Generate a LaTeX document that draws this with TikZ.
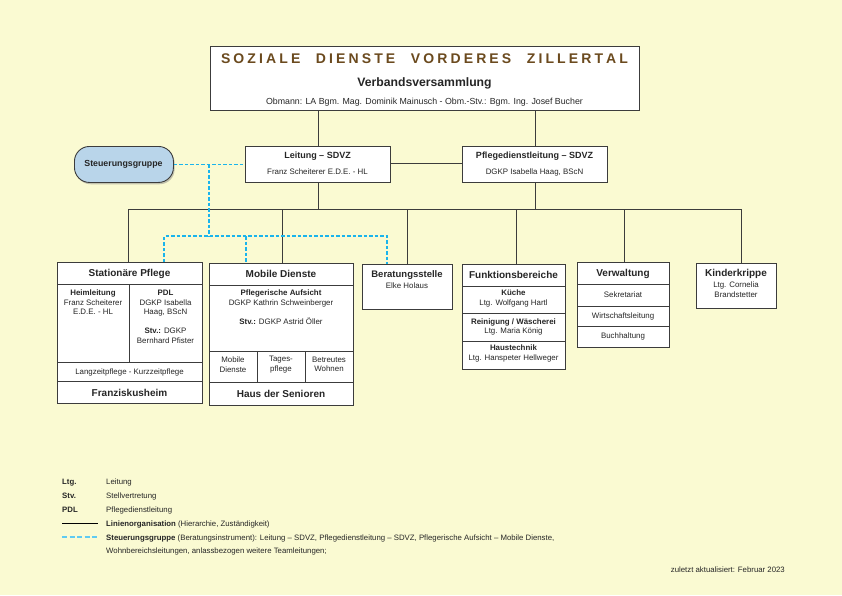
\documentclass[tikz,border=0pt]{standalone}
\usepackage{fontspec}
\setmainfont{Liberation Sans}
\usetikzlibrary{shadows}
\definecolor{bg}{HTML}{FAFAD2}
\definecolor{titlebrown}{HTML}{6B4A1E}
\definecolor{sgblue}{HTML}{B9D5EA}
\definecolor{dashblue}{HTML}{1AB4EC}
\definecolor{edge}{HTML}{3C3C3C}
\definecolor{txt}{HTML}{262626}
\begin{document}
\begin{tikzpicture}[x=1pt,y=-1pt,
  box/.style={draw=edge, line width=0.9pt, fill=white, inner sep=0pt, anchor=north west},
  org/.style={draw=edge, line width=0.9pt},
  sgline/.style={draw=dashblue, line width=1.4pt, dash pattern=on 3.5pt off 2pt},
  hd/.style={font=\bfseries\fontsize{10}{12}\selectfont, inner sep=0pt, text=txt},
  hdb/.style={font=\bfseries\fontsize{9}{11}\selectfont, inner sep=0pt, text=txt},
  sm/.style={font=\fontsize{7.9}{9.6}\selectfont, inner sep=0pt, align=center, text=txt},
  lg/.style={font=\fontsize{7.8}{13}\selectfont, inner sep=0pt, anchor=base west, text=txt, align=left},
  lgb/.style={lg, font=\bfseries\fontsize{7.8}{13}\selectfont}
]
\fill[bg] (0,0) rectangle (842,595);
\useasboundingbox (0,0) rectangle (842,595);

% ---- top box
\node[box, minimum width=429pt, minimum height=64pt] (top) at (210,46) {};
\node[inner sep=0pt, text=titlebrown, font=\bfseries\fontsize{14}{16}\selectfont] (title) at (424.5,59)
 {\makebox[407pt][s]{S\hfill O\hfill Z\hfill I\hfill A\hfill L\hfill E\hskip 0pt plus 5fill D\hfill I\hfill E\hfill N\hfill S\hfill T\hfill E\hskip 0pt plus 5fill V\hfill O\hfill R\hfill D\hfill E\hfill R\hfill E\hfill S\hskip 0pt plus 5fill Z\hfill I\hfill L\hfill L\hfill E\hfill R\hfill T\hfill A\hfill L}};
\node[inner sep=0pt, text=txt, font=\bfseries\fontsize{12.2}{14}\selectfont] (verb) at (424.5,83) {Verbandsversammlung};
\node[sm, font=\fontsize{8.8}{10}\selectfont] (obm) at (424.5,102) {Obmann: LA Bgm. Mag. Dominik Mainusch - Obm.-Stv.: Bgm. Ing. Josef Bucher};

% ---- second level
\node[box, minimum width=145pt, minimum height=36pt] (leit) at (245,146) {};
\node[hdb] (leitT) at (317.5,156) {Leitung – SDVZ};
\node[sm] (leitN) at (317.5,172) {Franz Scheiterer E.D.E. - HL};

\node[box, minimum width=145pt, minimum height=36pt] (pdl) at (462,146) {};
\node[hdb] (pdlT) at (534.5,156.5) {Pflegedienstleitung – SDVZ};
\node[sm] (pdlN) at (534.5,172.5) {DGKP Isabella Haag, BScN};

\node[box, fill=sgblue, rounded corners=15pt, minimum width=99pt, minimum height=36pt,
      drop shadow={shadow xshift=1.2pt, shadow yshift=-1.8pt, opacity=0.45}] (sg) at (74,146) {};
\node[hdb, font=\bfseries\fontsize{8.8}{10}\selectfont] (sgT) at (123.5,164) {Steuerungsgruppe};

% ---- third level boxes
\node[box, minimum width=145pt, minimum height=141pt] (stat) at (57,262) {};
\node[box, minimum width=144pt, minimum height=142pt] (mob) at (209,263) {};
\node[box, minimum width=90pt, minimum height=45pt] (ber) at (362,264) {};
\node[box, minimum width=103pt, minimum height=105pt] (fun) at (462,264) {};
\node[box, minimum width=92pt, minimum height=85pt] (ver) at (577,262) {};
\node[box, minimum width=80pt, minimum height=45pt] (kin) at (696,263) {};

% inner lines
\draw[org] (57,284) -- (202,284) (129,284) -- (129,362) (57,362) -- (202,362) (57,381) -- (202,381);
\draw[org] (209,285) -- (353,285) (209,351) -- (353,351) (209,382) -- (353,382) (257,351) -- (257,382) (305,351) -- (305,382);
\draw[org] (462,286) -- (565,286) (462,313) -- (565,313) (462,341) -- (565,341);
\draw[org] (577,284) -- (669,284) (577,306) -- (669,306) (577,326) -- (669,326);

% Stationäre Pflege texts
\node[hd] (statT) at (129.5,273.5) {Stationäre Pflege};
\node[sm] (heim) at (93,302.5) {\textbf{Heimleitung}\\Franz Scheiterer\\E.D.E. - HL};
\node[sm] (spdl) at (165.5,316.7) {\textbf{PDL}\\DGKP Isabella\\Haag, BScN\\[9.5pt]\textbf{Stv.:} DGKP\\Bernhard Pfister};
\node[sm] (lang) at (129.5,372) {Langzeitpflege - Kurzzeitpflege};
\node[hd] (franz) at (129.5,392.5) {Franziskusheim};

% Mobile Dienste texts
\node[hd] (mobT) at (281,274) {Mobile Dienste};
\node[sm] (pfa) at (281,307.3) {\textbf{Pflegerische Aufsicht}\\DGKP Kathrin Schweinberger\\[9.5pt]\textbf{Stv.:} DGKP Astrid Öller};
\node[sm] (m1) at (233,364.5) {Mobile\\Dienste};
\node[sm] (m2) at (281,364.5) {Tages-\\pflege};
\node[sm] (m3) at (329,364.5) {Betreutes\\Wohnen};
\node[hd] (haus) at (281,393.5) {Haus der Senioren};

% Beratungsstelle
\node[hdb, font=\bfseries\fontsize{9.5}{11}\selectfont] (berT) at (407,275) {Beratungsstelle};
\node[sm] (berN) at (407,286) {Elke Holaus};

% Funktionsbereiche
\node[hd] (funT) at (513.5,274.5) {Funktionsbereiche};
\node[sm] (f1) at (513.5,298.5) {\textbf{Küche}\\Ltg. Wolfgang Hartl};
\node[sm] (f2) at (513.5,327) {\textbf{Reinigung / Wäscherei}\\Ltg. Maria König};
\node[sm] (f3) at (513.5,353.5) {\textbf{Haustechnik}\\Ltg. Hanspeter Hellweger};

% Verwaltung
\node[hd] (verT) at (623,273.5) {Verwaltung};
\node[sm] (v1) at (623,295) {Sekretariat};
\node[sm] (v2) at (623,316) {Wirtschaftsleitung};
\node[sm] (v3) at (623,336) {Buchhaltung};

% Kinderkrippe
\node[hd] (kinT) at (736,273.5) {Kinderkrippe};
\node[sm] (kinN) at (736,289.5) {Ltg. Cornelia\\Brandstetter};

% ---- black organisation lines
\coordinate (busL) at (128,209);
\coordinate (busR) at (741,209);
\coordinate (lp) at (462,163.5);
\draw[org] (leit.north |- top.south) -- (leit.north);
\draw[org] (pdl.north |- top.south) -- (pdl.north);
\draw[org] (leit.east |- lp) -- (lp);
\draw[org] (leit.south) -- (leit.south |- busL);
\draw[org] (pdl.south) -- (pdl.south |- busL);
\draw[org] (busL) -- (busR);
\coordinate (dS) at (128,209);
\coordinate (dM) at (282,209);
\coordinate (dB) at (407,209);
\coordinate (dF) at (516,209);
\coordinate (dV) at (624,209);
\coordinate (dK) at (741,209);
\draw[org] (dS) -- (dS |- stat.north);
\draw[org] (dM) -- (dM |- mob.north);
\draw[org] (dB) -- (dB |- ber.north);
\draw[org] (dF) -- (dF |- fun.north);
\draw[org] (dV) -- (dV |- ver.north);
\draw[org] (dK) -- (dK |- kin.north);

% ---- blue dashed Steuerungsgruppe lines
\coordinate (sj) at (209,164);
\coordinate (sb) at (209,236);
\coordinate (s1) at (164,236);
\coordinate (s2) at (246,236);
\coordinate (s3) at (387,236);
\draw[sgline] (sg.east) -- (leit.west);
\draw[sgline] (sj) -- (sb);
\draw[sgline] (s1 |- stat.north) -- (s1) -- (s3) -- (s3 |- ber.north);
\draw[sgline] (s2) -- (s2 |- mob.north);

% ---- legend
\node[lgb] (a1) at (62,484) {Ltg.};
\node[lg] (b1) at (106,484) {Leitung};
\node[lgb] (a2) at (62,498.5) {Stv.};
\node[lg] (b2) at (106,498.5) {Stellvertretung};
\node[lgb] (a3) at (62,512) {PDL};
\node[lg] (b3) at (106,512) {Pflegedienstleitung};
\coordinate (l1a) at (62,523);
\coordinate (l1b) at (98,523);
\draw[draw=black, line width=0.9pt] (l1a) -- (l1b);
\node[lg] (b4) at (106,526) {\textbf{Linienorganisation} (Hierarchie, Zuständigkeit)};
\coordinate (l2a) at (62,537);
\coordinate (l2b) at (98,537);
\draw[sgline, draw=dashblue!70, dash pattern=on 5pt off 2.5pt, line width=1.8pt] (l2a) -- (l2b);
\node[lg] (b5) at (106,553) {\textbf{Steuerungsgruppe} (Beratungsinstrument): Leitung – SDVZ, Pflegedienstleitung – SDVZ, Pflegerische Aufsicht – Mobile Dienste,\\Wohnbereichsleitungen, anlassbezogen weitere Teamleitungen;};

% footer
\node[sm, anchor=east, font=\fontsize{7.8}{9}\selectfont] (foot) at (785,570) {zuletzt aktualisiert: Februar 2023};
\end{tikzpicture}
\end{document}
